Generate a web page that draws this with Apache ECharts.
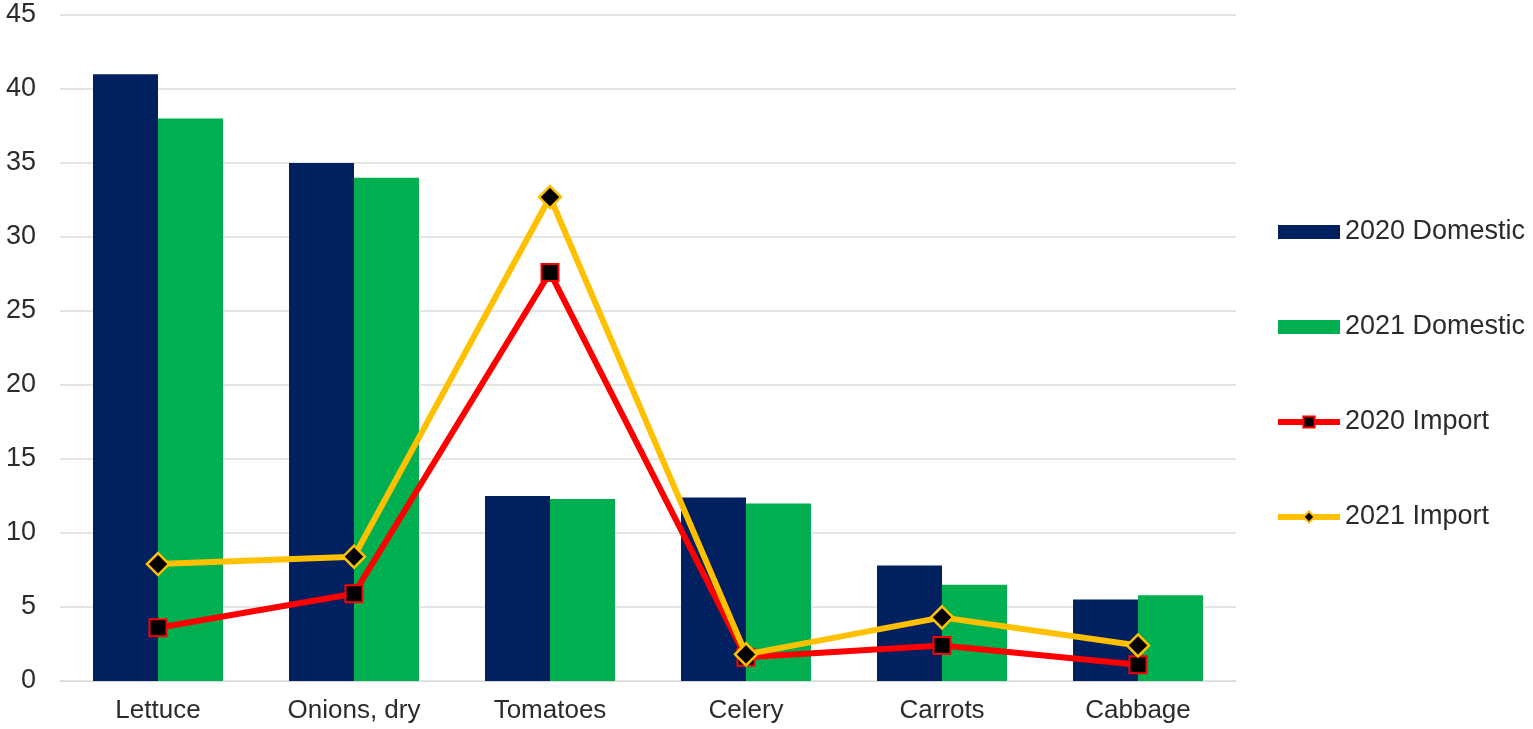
<!DOCTYPE html>
<html>
<head>
<meta charset="utf-8">
<script src="https://cdn.jsdelivr.net/npm/echarts@6/dist/echarts.min.js"></script>
<style>
  html, body { margin: 0; padding: 0; background: #fff; }
  #chart { width: 1533px; height: 729px; }
</style>
</head>
<body>
<div id="chart"></div>
<script>
// Vegetables: domestic volumes vs. imports, 2020 and 2021
const categories = ['Lettuce', 'Onions, dry', 'Tomatoes', 'Celery', 'Carrots', 'Cabbage'];
const domestic2020 = [41.0, 35.0, 12.5, 12.4, 7.8, 5.5];
const domestic2021 = [38.0, 34.0, 12.3, 12.0, 6.5, 5.8];
const import2020 = [3.6, 5.9, 27.6, 1.6, 2.4, 1.1];
const import2021 = [7.9, 8.4, 32.7, 1.8, 4.3, 2.4];
const yTicks = { min: 0, max: 45, interval: 5 };

const font = 'Liberation Sans, Arial, sans-serif';
const textColor = '#2b2b2b';
const chart = echarts.init(document.getElementById('chart'), null, { renderer: 'canvas' });

chart.setOption({
  animation: false,
  backgroundColor: '#ffffff',
  grid: { left: 60, right: 297, top: 15, bottom: 48, containLabel: false },
  legend: {
    orient: 'vertical',
    left: 1275,
    top: 218,
    padding: 0,
    itemWidth: 62,
    itemHeight: 14,
    itemGap: 67,
    textStyle: { fontFamily: font, fontSize: 27, color: textColor, lineHeight: 28 },
    data: [
      { name: '2020 Domestic', icon: 'rect' },
      { name: '2021 Domestic', icon: 'rect' },
      { name: '2020 Import', lineStyle: { width: 6 } },
      { name: '2021 Import', lineStyle: { width: 6 } }
    ]
  },
  xAxis: {
    type: 'category',
    data: categories,
    axisTick: { show: false },
    axisLine: { show: true, lineStyle: { color: '#d9d9d9', width: 1 } },
    axisLabel: { fontFamily: font, fontSize: 26, color: textColor, margin: 17 }
  },
  yAxis: {
    type: 'value',
    min: yTicks.min,
    max: yTicks.max,
    interval: yTicks.interval,
    axisLine: { show: false },
    axisTick: { show: false },
    splitLine: { lineStyle: { color: '#dcdcdc', width: 1.5 } },
    axisLabel: { fontFamily: font, fontSize: 27, color: textColor, margin: 24 }
  },
  series: [
    {
      name: '2020 Domestic',
      type: 'bar',
      data: domestic2020,
      barWidth: 65,
      barGap: '0%',
      itemStyle: { color: '#002060' }
    },
    {
      name: '2021 Domestic',
      type: 'bar',
      data: domestic2021,
      barWidth: 65,
      barGap: '0%',
      itemStyle: { color: '#00B050' }
    },
    {
      name: '2020 Import',
      type: 'line',
      data: import2020,
      symbol: 'rect',
      symbolSize: 17,
      z: 3,
      lineStyle: { color: '#FF0000', width: 6 },
      itemStyle: { color: '#000000', borderColor: '#FF0000', borderWidth: 2 }
    },
    {
      name: '2021 Import',
      type: 'line',
      data: import2021,
      symbol: 'diamond',
      symbolSize: 22,
      z: 4,
      lineStyle: { color: '#FFC000', width: 6 },
      itemStyle: { color: '#000000', borderColor: '#FFC000', borderWidth: 2.5 }
    }
  ]
});
</script>
</body>
</html>
